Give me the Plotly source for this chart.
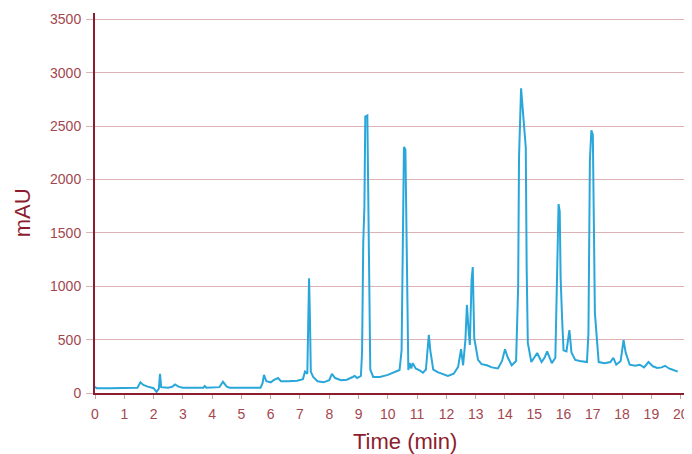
import plotly.graph_objects as go

# Retention time (min)
time_min = [
    0.0, 0.05, 0.5, 1.0, 1.45, 1.55, 1.65, 1.8, 2.0, 2.1, 2.18, 2.22, 2.26, 2.5, 2.65,
    2.73, 2.85, 3.0, 3.7, 3.75, 3.8, 4.25, 4.37, 4.5, 4.6, 5.65, 5.72, 5.77, 5.85, 6.0,
    6.1, 6.25, 6.35, 6.6, 6.9, 7.1, 7.17, 7.25, 7.28, 7.31, 7.34, 7.37, 7.45, 7.6, 7.8,
    8.0, 8.09, 8.2, 8.4, 8.6, 8.8, 8.87, 8.95, 9.08, 9.12, 9.16, 9.2, 9.23, 9.3, 9.33,
    9.36, 9.4, 9.5, 9.73, 10.0, 10.2, 10.4, 10.47, 10.52, 10.55, 10.6, 10.63, 10.66, 10.7,
    10.75, 10.8, 10.85, 10.95, 11.1, 11.2, 11.3, 11.36, 11.4, 11.45, 11.55, 11.7, 11.85,
    12.05, 12.25, 12.4, 12.5, 12.57, 12.65, 12.7, 12.75, 12.8, 12.86, 12.9, 12.95, 13.08,
    13.2, 13.38, 13.55, 13.76, 13.9, 14.0, 14.1, 14.23, 14.38, 14.45, 14.48, 14.55, 14.6,
    14.65, 14.71, 14.74, 14.78, 14.9, 15.0, 15.1, 15.25, 15.35, 15.44, 15.6, 15.72, 15.78,
    15.83, 15.87, 15.9, 15.95, 16.0, 16.1, 16.2, 16.27, 16.4, 16.55, 16.8, 16.85, 16.9,
    16.95, 17.0, 17.03, 17.07, 17.2, 17.4, 17.6, 17.7, 17.8, 17.95, 18.05, 18.12, 18.26,
    18.45, 18.6, 18.75, 18.9, 19.05, 19.2, 19.35, 19.47, 19.6, 19.75, 19.9,
]

# Absorbance (mAU)
absorbance_mau = [
    60, 45, 45, 48, 50, 100, 75, 60, 45, 10, 40, 180, 55, 50, 60,
    80, 60, 50, 50, 65, 50, 55, 105, 60, 50, 50, 90, 170, 110, 100,
    120, 140, 110, 110, 115, 130, 200, 180, 600, 1075, 700, 200, 150, 110, 100,
    120, 180, 140, 120, 125, 150, 160, 140, 160, 380, 1400, 1750, 2590, 2600, 1760,
    900, 220, 150, 150, 170, 190, 215, 400, 1780, 2305, 2280, 1780, 935, 215,
    280, 230, 280, 230, 210, 190, 220, 380, 545, 400, 220, 195, 180,
    160, 180, 245, 410, 260, 500, 825, 620, 450, 1060, 1180, 515, 310,
    270, 260, 240, 230, 300, 410, 330, 260, 300, 1000, 2210, 2855, 2680,
    2490, 2300, 1180, 470, 290, 330, 375, 290, 330, 390, 280, 330, 1180,
    1770, 1700, 1085, 700, 400, 390, 590, 380, 310, 300, 290, 560, 2180,
    2460, 2420, 1710, 750, 290, 280, 290, 330, 265, 300, 495, 380, 265,
    255, 265, 240, 290, 250, 235, 240, 255, 230, 215, 200,
]

x_ticks = list(range(0, 21))
y_ticks = [0, 500, 1000, 1500, 2000, 2500, 3000, 3500]

axis_red = "#8c1d2e"
label_red = "#a3474f"
grid_pink = "#dcb2b5"

fig = go.Figure()
fig.add_trace(go.Scatter(
    x=time_min, y=absorbance_mau, mode="lines",
    line=dict(color="#2aa7da", width=2), showlegend=False,
))

fig.update_layout(
    width=684, height=446,
    margin=dict(l=87, r=4, t=5, b=61),
    paper_bgcolor="white", plot_bgcolor="white",
    font=dict(family="Liberation Sans, Arial, sans-serif", color=label_red),
    xaxis=dict(
        range=[0, 20.25], tickvals=x_ticks, ticktext=[str(v) for v in x_ticks],
        showgrid=False, zeroline=False, automargin=False,
        showline=True, linecolor=axis_red, linewidth=2,
        ticks="outside", ticklen=4, tickcolor="#c9a0a4", tickwidth=1,
        ticklabelstandoff=3,
        tickfont=dict(size=14, color=label_red),
    ),
    yaxis=dict(
        range=[0, 3560], tickvals=y_ticks,
        showgrid=True, gridcolor=grid_pink, gridwidth=1,
        zeroline=False, automargin=False,
        showline=True, linecolor=axis_red, linewidth=2,
        ticks="outside", ticklen=7, tickcolor=grid_pink, tickwidth=1,
        ticklabelstandoff=2,
        tickfont=dict(size=14, color=label_red),
    ),
    annotations=[
        dict(text="Time (min)", xref="paper", yref="paper", x=0.522, y=0,
             yshift=-48, xanchor="center", yanchor="middle", showarrow=False,
             font=dict(size=22, color=axis_red)),
        dict(text="mAU", xref="paper", yref="paper", x=0, y=0.473,
             xshift=-73, xanchor="center", yanchor="middle", showarrow=False,
             textangle=-90, font=dict(size=22, color=axis_red)),
    ],
    shapes=[
        dict(type="line", xref="paper", yref="y", ysizemode="pixel", yanchor=0,
             x0=0, x1=0, y0=-7, y1=0, line=dict(color=axis_red, width=2)),
    ],
)

fig.write_html("out.html")
